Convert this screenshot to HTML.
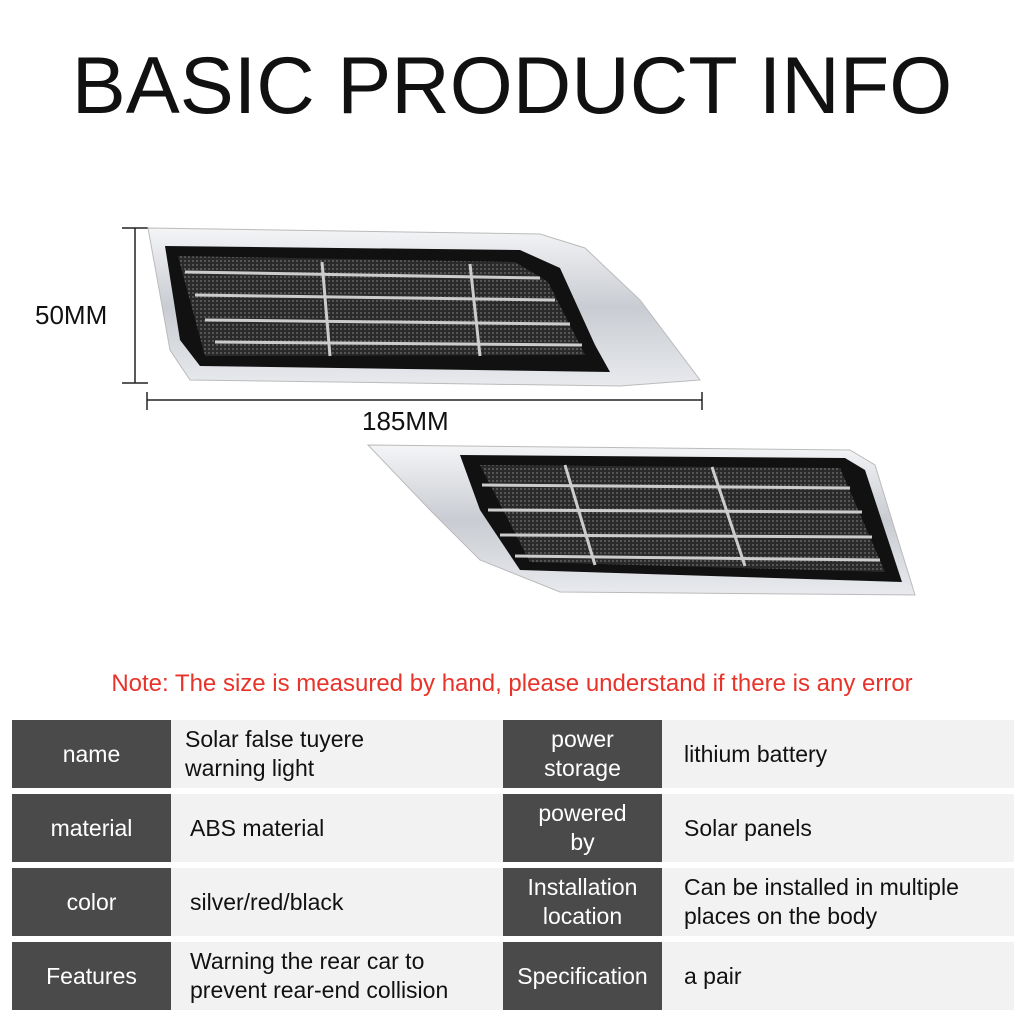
<!DOCTYPE html>
<html><head><style>
body{margin:0;width:1024px;height:1024px;background:#fff;position:relative;overflow:hidden;font-family:"Liberation Sans",sans-serif}
.t{position:absolute;left:0;width:1024px;top:40px;text-align:center;font-size:81px;color:#111;letter-spacing:0px}
.note{position:absolute;top:670px;left:0;width:1024px;text-align:center;color:#e8332a;font-size:24px}
.c{position:absolute;display:flex;align-items:center;font-size:23px;line-height:29px}
.d{background:#4a4a4a;color:#fff;justify-content:center;text-align:center}
.l{background:#f2f2f2;color:#111;padding-left:14px;box-sizing:border-box}
</style></head><body>
<div class="t">BASIC PRODUCT INFO</div>
<svg width="1024" height="660" style="position:absolute;left:0;top:0">
<defs>
<linearGradient id="s" x1="0" y1="0" x2="0" y2="1"><stop offset="0" stop-color="#f4f5f7"/><stop offset=".5" stop-color="#c9ccd2"/><stop offset="1" stop-color="#e8eaee"/></linearGradient>
<pattern id="m" width="4" height="4" patternUnits="userSpaceOnUse"><rect width="4" height="4" fill="#2a2a2a"/><rect width="2" height="2" fill="#555"/></pattern>
</defs>
<g stroke="#222" stroke-width="1.5">
<line x1="135" y1="228" x2="135" y2="383"/><line x1="122" y1="228" x2="148" y2="228"/><line x1="122" y1="383" x2="148" y2="383"/>
<line x1="147" y1="400" x2="702" y2="400"/><line x1="147" y1="392" x2="147" y2="410"/><line x1="702" y1="392" x2="702" y2="410"/>
</g>
<text x="35" y="324" font-size="26" fill="#111" font-family="Liberation Sans">50MM</text>
<text x="362" y="430" font-size="26" fill="#111" font-family="Liberation Sans">185MM</text>
<polygon points="148,228 540,234 585,248 640,300 700,380 620,386 190,380 170,350" fill="url(#s)" stroke="#bbb"/>
<polygon points="165,246 520,250 560,268 595,345 610,372 200,366 180,340" fill="#111"/>
<polygon points="178,256 515,262 548,282 585,355 205,356" fill="url(#m)"/>
<g stroke="#ccc" stroke-width="3" fill="none">
<path d="M185,272 L540,278 M195,295 L555,300 M205,320 L570,324 M215,342 L582,345"/>
<path d="M322,262 L330,356 M470,264 L480,356"/>
</g>
<polygon points="368,445 850,450 875,465 915,595 560,592 480,560 430,510" fill="url(#s)" stroke="#bbb"/>
<polygon points="460,455 845,458 865,470 902,582 520,570 480,510" fill="#111"/>
<polygon points="480,465 840,468 885,572 530,562" fill="url(#m)"/>
<g stroke="#ccc" stroke-width="3" fill="none">
<path d="M482,485 L850,488 M488,510 L862,512 M500,535 L872,537 M515,556 L880,560"/>
<path d="M565,465 L595,565 M712,467 L745,566"/>
</g>
</svg>
<div class="note">Note: The size is measured by hand, please understand if there is any error</div>

<div class="c d" style="left:12px;top:720px;width:159px;height:68px">name</div>
<div class="c l" style="left:171px;top:720px;width:332px;height:68px">Solar false tuyere<br>warning light</div>
<div class="c d" style="left:503px;top:720px;width:159px;height:68px">power<br>storage</div>
<div class="c l" style="left:662px;top:720px;width:352px;height:68px;padding-left:22px">lithium battery</div>

<div class="c d" style="left:12px;top:794px;width:159px;height:68px">material</div>
<div class="c l" style="left:171px;top:794px;width:332px;height:68px;padding-left:19px">ABS material</div>
<div class="c d" style="left:503px;top:794px;width:159px;height:68px">powered<br>by</div>
<div class="c l" style="left:662px;top:794px;width:352px;height:68px;padding-left:22px">Solar panels</div>

<div class="c d" style="left:12px;top:868px;width:159px;height:68px">color</div>
<div class="c l" style="left:171px;top:868px;width:332px;height:68px;padding-left:19px">silver/red/black</div>
<div class="c d" style="left:503px;top:868px;width:159px;height:68px">Installation<br>location</div>
<div class="c l" style="left:662px;top:868px;width:352px;height:68px;padding-left:22px">Can be installed in multiple<br>places on the body</div>

<div class="c d" style="left:12px;top:942px;width:159px;height:68px">Features</div>
<div class="c l" style="left:171px;top:942px;width:332px;height:68px;padding-left:19px">Warning the rear car to<br>prevent rear-end collision</div>
<div class="c d" style="left:503px;top:942px;width:159px;height:68px">Specification</div>
<div class="c l" style="left:662px;top:942px;width:352px;height:68px;padding-left:22px">a pair</div>
</body></html>
